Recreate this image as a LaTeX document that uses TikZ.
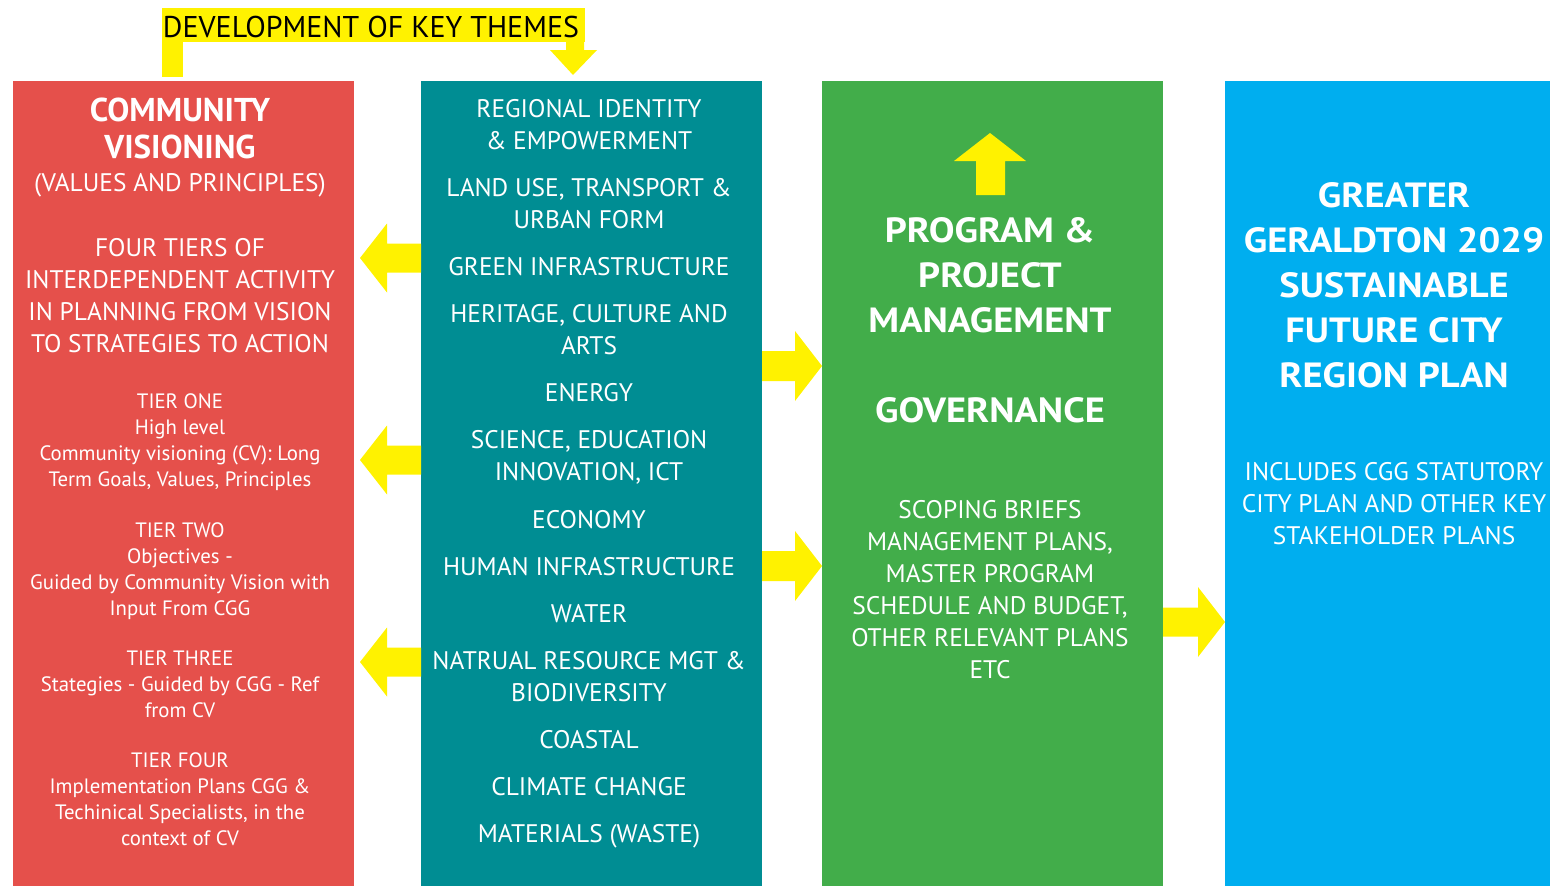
\documentclass[tikz,border=0pt]{standalone}
\usepackage{fontspec}
\setmainfont{PT Sans}
\newfontfamily\widebold{PT Sans}[FakeStretch=1.1]
\definecolor{cred}{HTML}{E5504B}
\definecolor{cteal}{HTML}{008D93}
\definecolor{cgreen}{HTML}{42AD4A}
\definecolor{cblue}{HTML}{00AEEF}
\definecolor{cyel}{HTML}{FFF200}
\begin{document}
\begin{tikzpicture}[x=1pt,y=-1pt,
  colbox/.style={rectangle, draw=none, inner sep=0pt, minimum width=341pt, minimum height=805pt},
  ln/.style={anchor=base, inner sep=0pt, text=white, font=\fontsize{25.4}{30}\selectfont},
  hd/.style={anchor=base, inner sep=0pt, text=white, font=\bfseries\fontsize{33}{38}\selectfont},
  bighd/.style={anchor=base, inner sep=0pt, text=white, font=\widebold\bfseries\fontsize{35}{40}\selectfont},
  tier/.style={anchor=base, inner sep=0pt, text=white, font=\fontsize{20.8}{24}\selectfont},
  yarrow/.style={fill=cyel, draw=none}
]
\useasboundingbox (0,0) rectangle (1550,886);
% columns
\node[colbox, fill=cred] (red) at (183.5,483.5) {};
\node[colbox, fill=cteal] (teal) at (591.5,483.5) {};
\node[colbox, fill=cgreen] (green) at (992.5,483.5) {};
\node[colbox, fill=cblue, minimum width=325pt] (blue) at (1387.5,483.5) {};

% banner
\fill[yarrow] (162,8) rectangle (585,42);
\fill[yarrow] (162,42) rectangle (183,77);
\fill[yarrow] (566,42) -- (584,42) -- (584,50) -- (597,50) -- (573,75) -- (550,50) -- (566,50) -- cycle;
\node[anchor=base, inner sep=0pt, font=\fontsize{30}{34}\selectfont] (banner) at (371,37) {DEVELOPMENT OF KEY THEMES};

% left arrows (teal -> red)
\foreach \c [count=\i] in {258,460,662}{
  \fill[yarrow] (421,\c-14.5) -- (387,\c-14.5) -- (387,\c-34.5) -- (360,\c) -- (387,\c+34.5) -- (387,\c+14.5) -- (421,\c+14.5) -- cycle;
}
% right arrows (teal -> green)
\foreach \c in {366,566}{
  \fill[yarrow] (762,\c-15) -- (795,\c-15) -- (795,\c-35) -- (822,\c) -- (795,\c+35) -- (795,\c+15) -- (762,\c+15) -- cycle;
}
% green -> blue
\fill[yarrow] (1163,607.5) -- (1198,607.5) -- (1198,587) -- (1225,622) -- (1198,657) -- (1198,636.5) -- (1163,636.5) -- cycle;
% up arrow in green
\fill[yarrow] (976,195) -- (976,161) -- (954,161) -- (990,133) -- (1026,161) -- (1005,161) -- (1005,195) -- cycle;

% red column text
\node[hd] (r1) at (180,121) {COMMUNITY};
\node[hd] (r2) at (180,158) {VISIONING};
\node[ln] (r3) at (180,191) {(VALUES AND PRINCIPLES)};
\node[ln] (r4) at (180,256) {FOUR TIERS OF};
\node[ln] (r5) at (180,288) {INTERDEPENDENT ACTIVITY};
\node[ln] (r6) at (180,320) {IN PLANNING FROM VISION};
\node[ln] (r7) at (180,352) {TO STRATEGIES TO ACTION};
\node[tier] (t1) at (180,408) {TIER ONE};
\node[tier] (t2) at (180,434) {High level};
\node[tier] (t3) at (180,460) {Community visioning (CV): Long};
\node[tier] (t4) at (180,486) {Term Goals, Values, Principles};
\node[tier] (t5) at (180,537) {TIER TWO};
\node[tier] (t6) at (180,563) {Objectives -};
\node[tier] (t7) at (180,589) {Guided by Community Vision with};
\node[tier] (t8) at (180,615) {Input From CGG};
\node[tier] (t9) at (180,665) {TIER THREE};
\node[tier] (t10) at (180,691) {Stategies - Guided by CGG - Ref};
\node[tier] (t11) at (180,717) {from CV};
\node[tier] (t12) at (180,767) {TIER FOUR};
\node[tier] (t13) at (180,793) {Implementation Plans CGG \&};
\node[tier] (t14) at (180,819) {Techinical Specialists, in the};
\node[tier] (t15) at (180,845) {context of CV};

% teal column text
\foreach \y/\t [count=\i] in {117/REGIONAL IDENTITY, 149/\& EMPOWERMENT, 196/{LAND USE, TRANSPORT \&}, 228/URBAN FORM, 275/GREEN INFRASTRUCTURE, 322/{HERITAGE, CULTURE AND}, 354/ARTS, 401/ENERGY, 448/{SCIENCE, EDUCATION}, 480/{INNOVATION, ICT}, 528/ECONOMY, 575/HUMAN INFRASTRUCTURE, 622/WATER, 669/NATRUAL RESOURCE MGT \&, 701/BIODIVERSITY, 748/COASTAL, 795/CLIMATE CHANGE, 842/MATERIALS (WASTE)}{
  \node[ln] (m\i) at (589,\y) {\t};
}

% green column text
\node[bighd] (g1) at (990,242) {PROGRAM \&};
\node[bighd] (g2) at (990,287) {PROJECT};
\node[bighd] (g3) at (990,332) {MANAGEMENT};
\node[bighd] (g4) at (990,422) {GOVERNANCE};
\foreach \y/\t [count=\i] in {518/SCOPING BRIEFS, 550/{MANAGEMENT PLANS,}, 582/MASTER PROGRAM, 614/{SCHEDULE AND BUDGET,}, 646/OTHER RELEVANT PLANS, 678/ETC}{
  \node[ln] (gs\i) at (990,\y) {\t};
}

% blue column text
\node[bighd] (b1) at (1394,207) {GREATER};
\node[bighd] (b2) at (1394,252) {GERALDTON 2029};
\node[bighd] (b3) at (1394,297) {SUSTAINABLE};
\node[bighd] (b4) at (1394,342) {FUTURE CITY};
\node[bighd] (b5) at (1394,387) {REGION PLAN};
\node[ln] (b6) at (1394,480) {INCLUDES CGG STATUTORY};
\node[ln] (b7) at (1394,512) {CITY PLAN AND OTHER KEY};
\node[ln] (b8) at (1394,544) {STAKEHOLDER PLANS};
\end{tikzpicture}
\end{document}
